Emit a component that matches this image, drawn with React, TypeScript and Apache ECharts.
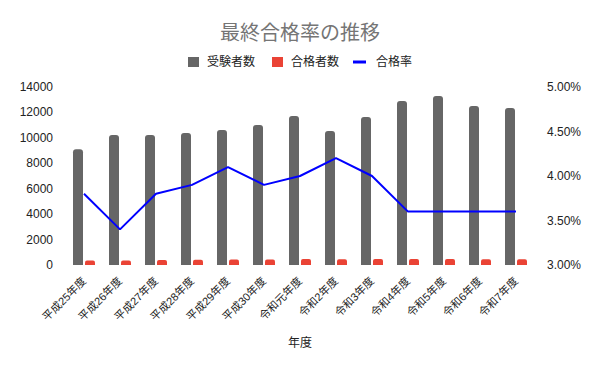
import React, { useEffect, useRef } from "react";
import * as echarts from "echarts";

const categories = [
  "平成25年度", "平成26年度", "平成27年度", "平成28年度", "平成29年度", "平成30年度",
  "令和元年度", "令和2年度", "令和3年度", "令和4年度", "令和5年度", "令和6年度", "令和7年度",
];
const examinees = [9100, 10230, 10220, 10380, 10620, 11010, 11720, 10540, 11640, 12900, 13290, 12500, 12350];
const passers = [346, 348, 388, 405, 435, 429, 469, 443, 466, 464, 478, 450, 445];
const passRate = [0.038, 0.034, 0.038, 0.039, 0.041, 0.039, 0.04, 0.042, 0.04, 0.036, 0.036, 0.036, 0.036];

const FONT = '"Liberation Sans", "Noto Sans CJK JP", sans-serif';

export default function App() {
  const ref = useRef<HTMLDivElement>(null);
  useEffect(() => {
    if (!ref.current) return;
    const chart = echarts.init(ref.current, null, { renderer: "svg" });
    chart.setOption({
      animation: false,
      backgroundColor: "#ffffff",
      textStyle: { fontFamily: FONT },
      title: {
        text: "最終合格率の推移",
        left: "center",
        top: 23,
        padding: 0,
        textStyle: { fontSize: 20, fontWeight: "normal", color: "#757575", fontFamily: FONT },
      },
      legend: [
        {
          top: 56,
          left: 188,
          padding: 0,
          itemWidth: 11,
          itemHeight: 10,
          itemGap: 17,
          textStyle: { fontSize: 12, color: "#222222", fontFamily: FONT, padding: [0, 0, 0, 3] },
          data: [
            { name: "受験者数", icon: "rect" },
            { name: "合格者数", icon: "rect" },
          ],
        },
        {
          top: 56,
          left: 353,
          padding: 0,
          itemWidth: 13,
          itemHeight: 3,
          textStyle: { fontSize: 12, color: "#222222", fontFamily: FONT, padding: [0, 0, 0, 5] },
          data: [{ name: "合格率", icon: "rect" }],
        },
      ],
      grid: { left: 66, right: 66, top: 87, bottom: 106, containLabel: false, outerBoundsMode: "none" },
      xAxis: {
        type: "category",
        data: categories,
        name: "年度",
        nameLocation: "middle",
        nameGap: 72,
        nameTextStyle: { fontSize: 12, color: "#222222", fontFamily: FONT },
        axisLine: { show: false },
        axisTick: { show: false },
        axisLabel: { rotate: 45, fontSize: 11, color: "#222222", interval: 0, margin: 14, fontFamily: FONT },
      },
      yAxis: [
        {
          type: "value",
          min: 0,
          max: 14000,
          interval: 2000,
          splitLine: { show: false },
          axisLine: { show: false },
          axisTick: { show: false },
          axisLabel: {
            fontSize: 12,
            color: "#222222",
            margin: 13,
            fontFamily: FONT,
            formatter: (v: number) => String(v),
          },
        },
        {
          type: "value",
          min: 0.03,
          max: 0.05,
          interval: 0.005,
          splitLine: { show: false },
          axisLine: { show: false },
          axisTick: { show: false },
          axisLabel: {
            fontSize: 12,
            color: "#222222",
            margin: 13,
            fontFamily: FONT,
            formatter: (v: number) => (v * 100).toFixed(2) + "%",
          },
        },
      ],
      series: [
        {
          name: "受験者数",
          type: "bar",
          data: examinees,
          barWidth: 10,
          barGap: "20%",
          itemStyle: { color: "#666666", borderRadius: [3, 3, 0, 0] },
        },
        {
          name: "合格者数",
          type: "bar",
          data: passers,
          barWidth: 10,
          barGap: "20%",
          itemStyle: { color: "#ea4335", borderRadius: [2, 2, 0, 0] },
        },
        {
          name: "合格率",
          type: "line",
          yAxisIndex: 1,
          data: passRate,
          symbol: "none",
          showSymbol: false,
          lineStyle: { color: "#0000ff", width: 2 },
          itemStyle: { color: "#0000ff" },
        },
      ],
    });
    return () => chart.dispose();
  }, []);
  return <div ref={ref} style={{ width: 600, height: 371, position: "absolute", left: 0, top: 0 }} />;
}
